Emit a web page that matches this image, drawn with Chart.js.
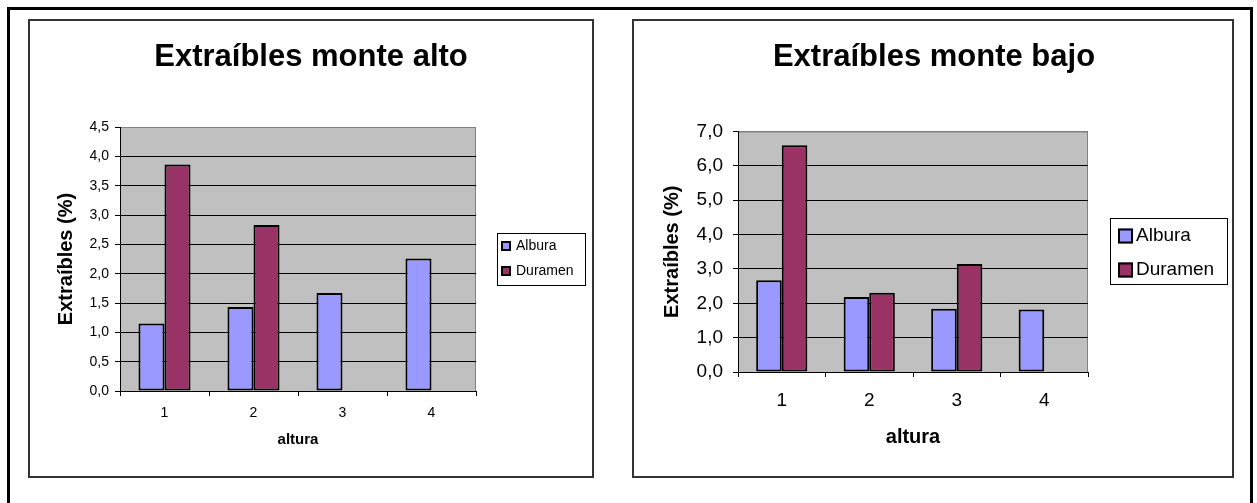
<!DOCTYPE html>
<html>
<head>
<meta charset="utf-8">
<script src="https://cdn.jsdelivr.net/npm/chart.js@4.4.1/dist/chart.umd.min.js"></script>
<style>
  html, body { margin: 0; padding: 0; background: #fff; }
  body { width: 1257px; height: 503px; position: relative; overflow: hidden; }
  #frame { position: absolute; left: 7px; top: 7px; width: 1246px; height: 530px;
           border: 3px solid #000; box-sizing: border-box; }
  .box { position: absolute; top: 19px; height: 459px; border: 2px solid #333; box-sizing: border-box; background: #fff; }
  #boxAlto { left: 28px; width: 566px; }
  #boxBajo { left: 632px; width: 602px; }
  canvas { position: absolute; }
  #alto { left: 29px; top: 20px; }
  #bajo { left: 632px; top: 20px; }
</style>
</head>
<body>
<div id="frame"></div>
<div class="box" id="boxAlto"></div>
<div class="box" id="boxBajo"></div>
<canvas id="alto" width="564" height="457"></canvas>
<canvas id="bajo" width="601" height="457"></canvas>
<script>
// Categories (height positions along the stem) and series names
const categories = ['1', '2', '3', '4'];
const seriesNames = ['Albura', 'Duramen'];

// Extractives (%) – high forest
const altoAlbura  = [1.15, 1.43, 1.67, 2.26];
const altoDuramen = [3.86, 2.83, null, null];

// Extractives (%) – coppice
const bajoAlbura  = [2.67, 2.18, 1.84, 1.82];
const bajoDuramen = [6.60, 2.31, 3.14, null];

// Value-axis tick values
const altoTicks = [0, 0.5, 1.0, 1.5, 2.0, 2.5, 3.0, 3.5, 4.0, 4.5];
const bajoTicks = [0, 1, 2, 3, 4, 5, 6, 7];

const seriesColors = ['#9999FF', '#993366'];
const FONT = "'Liberation Sans', Arial, sans-serif";

// Grey plot area, framed legend and centred title in the classic spreadsheet style
const excelLook = {
  id: 'excelLook',
  beforeDraw(chart, args, o) {
    const { ctx, chartArea: a } = chart;
    ctx.save();
    ctx.fillStyle = '#C0C0C0';
    ctx.fillRect(a.left, a.top, a.width, a.height);
    ctx.strokeStyle = '#808080';
    ctx.lineWidth = 1;
    ctx.beginPath();
    ctx.moveTo(a.left, a.top + 0.5);
    ctx.lineTo(a.right - 0.5, a.top + 0.5);
    ctx.lineTo(a.right - 0.5, a.bottom);
    ctx.stroke();
    ctx.restore();
  },
  afterDraw(chart, args, o) {
    const ctx = chart.ctx;
    ctx.save();
    ctx.fillStyle = '#000';
    ctx.font = 'bold ' + o.titleSize + 'px ' + FONT;
    ctx.textAlign = 'center';
    ctx.textBaseline = 'alphabetic';
    ctx.fillText(o.title, o.titleX, o.titleY);

    const L = o.legend;
    ctx.strokeStyle = '#000';
    ctx.lineWidth = 1;
    ctx.strokeRect(L.x + 0.5, L.y + 0.5, L.w, L.h);
    ctx.font = L.size + 'px ' + FONT;
    ctx.textAlign = 'left';
    ctx.textBaseline = 'middle';
    chart.data.datasets.forEach((ds, i) => {
      const cy = L.rows[i];
      const s = L.swatch;
      ctx.fillStyle = ds.backgroundColor;
      ctx.fillRect(L.swX, cy - s / 2, s, s);
      ctx.lineWidth = 2;
      ctx.strokeStyle = '#000';
      ctx.strokeRect(L.swX + 1, cy - s / 2 + 1, s - 2, s - 2);
      ctx.fillStyle = '#000';
      ctx.fillText(ds.label, L.textX, cy);
    });
    ctx.restore();
  }
};

function fmt(v) {
  return Number(v).toFixed(1).replace('.', ',');
}

function makeChart(id, cfg) {
  const yMax = cfg.ticks[cfg.ticks.length - 1];
  return new Chart(document.getElementById(id), {
    type: 'bar',
    data: {
      labels: categories,
      datasets: [
        { label: seriesNames[0], data: cfg.albura, backgroundColor: seriesColors[0] },
        { label: seriesNames[1], data: cfg.duramen, backgroundColor: seriesColors[1] }
      ]
    },
    plugins: [excelLook],
    options: {
      responsive: false,
      animation: false,
      devicePixelRatio: 1,
      layout: { padding: { left: 0, top: cfg.padTop, right: cfg.padRight, bottom: 0 } },
      datasets: {
        bar: {
          categoryPercentage: 0.585,
          barPercentage: 1,
          borderColor: '#000',
          borderWidth: 2,
          borderSkipped: false
        }
      },
      plugins: {
        legend: { display: false },
        title: { display: false },
        tooltip: { enabled: false },
        excelLook: {
          title: cfg.title, titleSize: 31, titleX: cfg.titleX, titleY: 46,
          legend: cfg.legend
        }
      },
      scales: {
        x: {
          offset: true,
          grid: { offset: true, drawOnChartArea: false, drawTicks: true, tickLength: 5, color: '#000' },
          border: { color: '#000', width: 1 },
          ticks: { color: '#000', padding: cfg.xTickPad, font: { family: FONT, size: cfg.tickSize } },
          title: {
            display: true, text: 'altura', color: '#000',
            font: { family: FONT, size: cfg.xTitleSize, weight: 'bold' },
            padding: { top: 0, bottom: 28 }
          },
          afterFit(s) { s.height = cfg.xHeight; }
        },
        y: {
          min: 0,
          max: yMax,
          afterBuildTicks(s) { s.ticks = cfg.ticks.map(v => ({ value: v })); },
          grid: {
            color: ctx => (ctx.tick && ctx.tick.value === yMax ? '#808080' : '#000'),
            tickColor: '#000', lineWidth: 1, drawTicks: true, tickLength: 5
          },
          border: { color: '#000', width: 1 },
          ticks: {
            color: '#000', padding: cfg.yTickPad,
            font: { family: FONT, size: cfg.tickSize },
            callback: v => fmt(v)
          },
          title: {
            display: true, text: 'Extraíbles (%)', color: '#000',
            font: { family: FONT, size: 20, weight: 'bold' },
            padding: { top: cfg.yTitlePad, bottom: 0 }
          },
          afterFit(s) { s.width = cfg.yWidth; }
        }
      }
    }
  });
}

makeChart('alto', {
  title: 'Extraíbles monte alto', titleX: 282,
  albura: altoAlbura, duramen: altoDuramen, ticks: altoTicks,
  padTop: 107, padRight: 117, yWidth: 91, xHeight: 86,
  tickSize: 14, xTickPad: 9, yTickPad: 6, xTitleSize: 15, yTitlePad: 25,
  legend: { x: 468, y: 213, w: 88, h: 52, size: 14, swatch: 10, swX: 472, textX: 487, rows: [226, 251] }
});

makeChart('bajo', {
  title: 'Extraíbles monte bajo', titleX: 302,
  albura: bajoAlbura, duramen: bajoDuramen, ticks: bajoTicks,
  padTop: 111.5, padRight: 145, yWidth: 106, xHeight: 105,
  tickSize: 19, xTickPad: 12, yTickPad: 10, xTitleSize: 20, yTitlePad: 28,
  legend: { x: 478, y: 198, w: 117, h: 66, size: 19, swatch: 15, swX: 486, textX: 504, rows: [216, 250] }
});
</script>
</body>
</html>
